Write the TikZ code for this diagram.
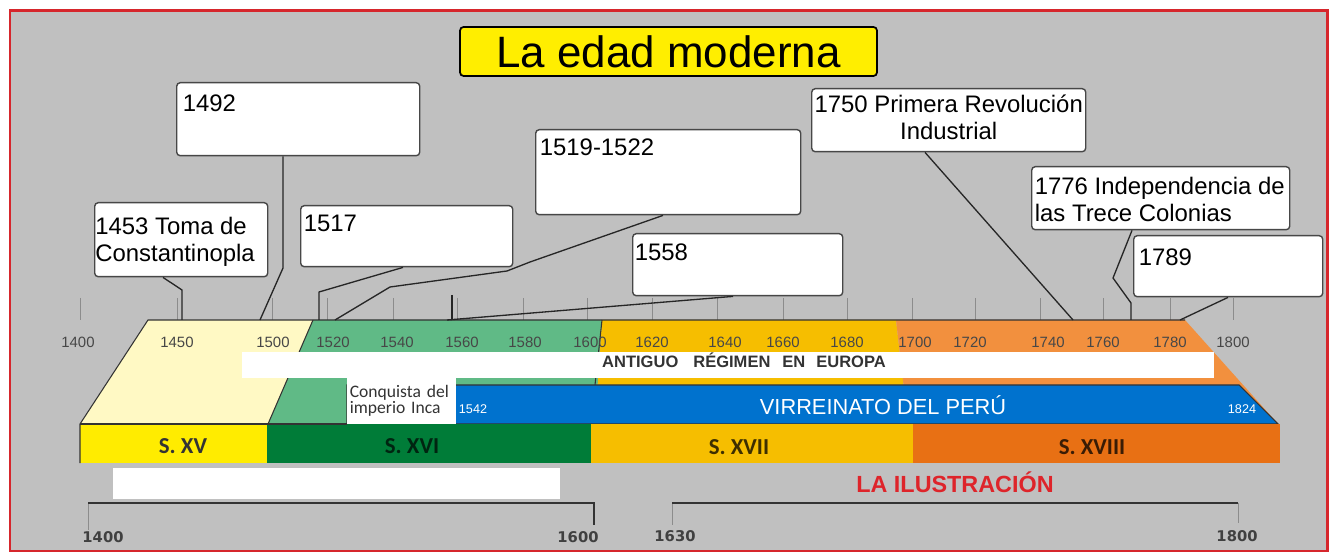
\documentclass[tikz,border=0pt]{standalone}
\usepackage{fontspec}
\setmainfont{Liberation Sans}
\newfontfamily\calfont{Carlito}
\newfontfamily\widefont{DejaVu Sans}
\usetikzlibrary{calc}
\definecolor{bggray}{RGB}{192,192,192}
\definecolor{framered}{RGB}{214,38,44}
\definecolor{titleyellow}{RGB}{255,238,0}
\definecolor{paleyellow}{RGB}{255,249,196}
\definecolor{midgreen}{RGB}{96,186,134}
\definecolor{goldbar}{RGB}{246,190,0}
\definecolor{paleorange}{RGB}{242,144,62}
\definecolor{virblue}{RGB}{0,114,206}
\definecolor{xvyellow}{RGB}{255,236,0}
\definecolor{darkgreen}{RGB}{0,124,56}
\definecolor{xviiiorange}{RGB}{232,112,20}
\definecolor{ilusred}{RGB}{222,36,42}

\begin{document}
\begin{tikzpicture}[x=0.02cm, y=-0.02cm,
  evbox/.style 2 args = {draw=black!72, line width=0.8pt, fill=white,
                         rounded corners=2pt, anchor=north west, inner sep=0pt,
                         minimum width=#1*0.02cm, minimum height=#2*0.02cm},
  evtext/.style  = {inner sep=0pt, align=left, font=\fontsize{13.6}{15.4}\selectfont},
  conn/.style    = {draw=black!85, line width=0.75pt, line join=round},
  yrtick/.style  = {draw=black!45, line width=0.4pt},
  yr/.style      = {anchor=base, inner sep=0pt, text=black!72,
                    font=\fontsize{8.5}{10}\selectfont},
  cent/.style    = {anchor=base, inner sep=0pt,
                    font=\calfont\bfseries\fontsize{13}{15}\selectfont},
  bandline/.style= {draw=black!80, line width=0.6pt},
  byr/.style     = {anchor=base, inner sep=0pt, text=black!75,
                    font=\widefont\bfseries\fontsize{8.4}{10}\selectfont},
]
  \useasboundingbox (0,0) rectangle (1334,553);
  \fill[white] (0,0) rectangle (1334,553);
  \filldraw[fill=bggray, draw=framered, line width=1.7pt] (10,11) rectangle (1327,551);

  % title
  \node[draw=black, line width=1pt, fill=titleyellow, rounded corners=2pt,
        minimum width=8.34cm, minimum height=0.98cm, inner sep=0pt,
        font=\fontsize{25}{30}\selectfont] (title) at (668.5,51.5) {La edad moderna};

  % ticks above the band
  \foreach \tx in {80,177,272,327,393,457,523,587,652,717,783,847,912,975,1040,1103,1170,1233}
    \draw[yrtick] (\tx,298) -- (\tx,320);

  % upper band
  \fill[paleyellow] (80,424) -- (148,320) -- (313,320) -- (268,424) -- cycle;
  \fill[midgreen]   (313,320) -- (602,320) -- (595,424) -- (268,424) -- cycle;
  \fill[goldbar]    (602,320) -- (896,320) -- (908,424) -- (595,424) -- cycle;
  \fill[paleorange] (896,320) -- (1185,320) -- (1278,424) -- (908,424) -- cycle;
  \draw[bandline] (602,320) -- (595,385);
  \draw[bandline] (313,320) -- (268,424);

  \fill[white] (242,352) rectangle (1214,378);
  \node[anchor=base, inner sep=0pt, text=black!80,
        font=\bfseries\fontsize{9.4}{11}\selectfont] (regimen) at (744,368)
        {ANTIGUO\hspace{0.3cm}RÉGIMEN\hspace{0.24cm}EN\hspace{0.22cm}EUROPA};

  \filldraw[fill=virblue, draw=black!80, line width=0.6pt]
    (347,385) -- (1239,385) -- (1278,424) -- (347,424) -- cycle;
  \node[anchor=base, inner sep=0pt, text=white, font=\fontsize{12.4}{14}\selectfont]
    (virreinato) at (883,415) {VIRREINATO DEL PERÚ};
  \node[anchor=base, inner sep=0pt, text=white, font=\fontsize{7.2}{8}\selectfont]
    (v1542) at (473,414) {1542};
  \node[anchor=base, inner sep=0pt, text=white, font=\fontsize{7.2}{8}\selectfont]
    (v1824) at (1242,414) {1824};

  \node[fill=white, anchor=north west, inner xsep=0.05cm, inner ysep=0pt,
        text width=2.08cm, minimum height=0.94cm, align=left, text=black!80,
        font=\calfont\fontsize{10}{9.2}\selectfont] (conquista) at (347,377)
        {Conquista del\\imperio Inca};

  % centuries
  \fill[xvyellow]    (80,424) rectangle (267,463);
  \fill[darkgreen]   (267,424) rectangle (591,463);
  \fill[goldbar]     (591,424) rectangle (913,463);
  \fill[xviiiorange] (913,424) rectangle (1280,463);
  \draw[bandline] (80,463) -- (80,424) -- (148,320) -- (1185,320);
  \draw[bandline] (80,424) -- (347,424);

  \node[cent, text=black!80]          (sxv)    at (183,453)  {S. XV};
  \node[cent, text=black!70!darkgreen] (sxvi)  at (412,453)  {S. XVI};
  \node[cent, text=black!75!goldbar]  (sxvii)  at (739,454)  {S. XVII};
  \node[cent, text=black!75!xviiiorange] (sxviii) at (1092,454) {S. XVIII};

  % years on the band
  \foreach \lx/\yy in {78/1400, 177/1450, 273/1500, 333/1520, 397/1540, 462/1560,
                       525/1580, 590/1600, 652/1620, 725/1640, 783/1660, 847/1680,
                       915/1700, 970/1720, 1048/1740, 1103/1760, 1170/1780, 1233/1800}
    \node[yr] (y\yy) at (\lx,348) {\yy};

  % lower part
  \fill[white] (113,468) rectangle (560,499);
  \draw[yrtick] (88,503) -- (88,530);
  \draw[draw=black!80, line width=1.1pt] (88,503) -- (594,503) -- (594,525);
  \draw[yrtick] (672,503) -- (672,525);
  \draw[yrtick] (1238,503) -- (1238,523);
  \draw[draw=black!80, line width=1.1pt] (672,503) -- (1238,503);
  \node[anchor=base, inner sep=0pt, text=ilusred,
        font=\bfseries\fontsize{13.3}{15}\selectfont] (ilustracion) at (955,492) {LA ILUSTRACIÓN};
  \node[byr] (l1400) at (103,542)  {1400};
  \node[byr] (l1600) at (578,542)  {1600};
  \node[byr] (l1630) at (675,541)  {1630};
  \node[byr] (l1800) at (1237,541) {1800};

  % event boxes
  \node[evbox={243}{73}, label={[evtext, anchor=north west, xshift=0.13cm, yshift=-0.24cm]north west:1492}] (b1492) at (176,82) {};
  \node[evbox={173}{74}, label={[evtext, anchor=north west, xshift=0.02cm, yshift=-0.30cm]north west:1453 Toma de\\Constantinopla}] (b1453) at (94,202) {};
  \node[evbox={212}{61}, label={[evtext, anchor=north west, xshift=0.07cm, yshift=-0.20cm]north west:1517}] (b1517) at (300,205) {};
  \node[evbox={265}{85}, label={[evtext, anchor=north west, xshift=0.09cm, yshift=-0.18cm]north west:1519-1522}] (b1519) at (535,129) {};
  \node[evbox={210}{62}, label={[evtext, anchor=north west, xshift=0.05cm, yshift=-0.20cm]north west:1558}] (b1558) at (632,233) {};
  \node[evbox={274}{63}, label={[evtext, align=center, anchor=north, yshift=-0.14cm]north:1750 Primera Revolución\\Industrial}] (b1750) at (811,88) {};
  \node[evbox={258}{63}, label={[evtext, anchor=north west, xshift=0.07cm, yshift=-0.22cm]north west:1776 Independencia de\\las Trece Colonias}] (b1776) at (1031,166) {};
  \node[evbox={189}{61}, label={[evtext, anchor=north west, xshift=0.11cm, yshift=-0.26cm]north west:1789}] (b1789) at (1133,235) {};

  % where the connectors meet the band
  \coordinate (m1453) at (182,320);
  \coordinate (m1492) at (260,320);
  \coordinate (m1517) at (319,320);
  \coordinate (m1519) at (335,320);
  \coordinate (m1558) at (447,320);
  \coordinate (m1750) at (1073,320);
  \coordinate (m1776) at (1131,320);
  \coordinate (m1789) at (1180,320);

  \draw[conn] ($(b1453.south west)+(69,0)$)  -- (182,290) -- (m1453);
  \draw[conn] ($(b1492.south west)+(107,0)$) -- (283,268) -- (m1492);
  \draw[conn] ($(b1517.south west)+(103,0)$) -- (319,292) -- (m1517);
  \draw[conn] ($(b1519.south west)+(128,0)$) -- (530,262) -- (507,271) -- (390,287) -- (m1519);
  \draw[conn] ($(b1558.south west)+(101,0)$) -- (m1558);
  \draw[conn] (452,295) -- (452,320);
  \draw[conn] ($(b1750.south west)+(114,0)$) -- (m1750);
  \draw[conn] ($(b1776.south west)+(101,0)$) -- (1113,278) -- (1131,303) -- (m1776);
  \draw[conn] ($(b1789.south west)+(95,0)$)  -- (m1789);
\end{tikzpicture}
\end{document}
